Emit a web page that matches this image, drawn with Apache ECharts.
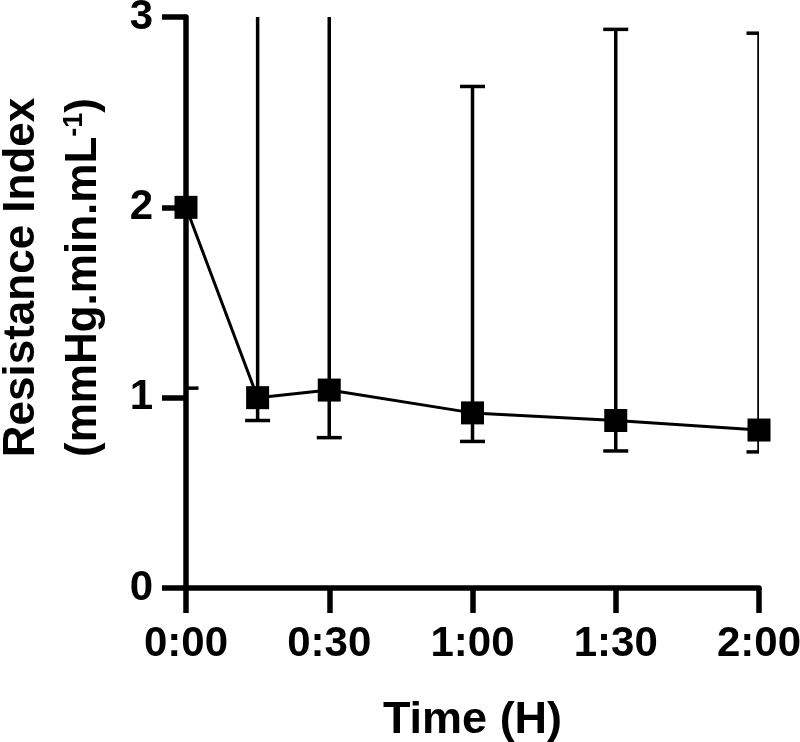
<!DOCTYPE html>
<html>
<head>
<meta charset="utf-8">
<script src="https://cdn.jsdelivr.net/npm/echarts@6/dist/echarts.min.js"></script>
<style>
html,body{margin:0;padding:0;background:#fff;}
#c{width:800px;height:742px;}
</style>
</head>
<body>
<div id="c"></div>
<script>
// Data (time in minutes)
var timesMin = [0, 15, 30, 60, 90, 120];
var meanValues = [2.0, 1.0, 1.04, 0.92, 0.88, 0.83];
var lowerValues = [1.05, 0.88, 0.79, 0.77, 0.72, 0.715];
var upperValues = [3.3, 3.5, 3.5, 2.635, 2.935, 2.915];
var xTickValues = [0, 30, 60, 90, 120];
var xTickLabels = ['0:00', '0:30', '1:00', '1:30', '2:00'];
var yTickLabels = ['0', '1', '2', '3'];

var FONT = 'Liberation Sans, Arial, sans-serif';

var lineData = timesMin.map(function (t, i) { return [t, meanValues[i]]; });
var errData = timesMin.map(function (t, i) { return [t, lowerValues[i], upperValues[i]]; });

var chart = echarts.init(document.getElementById('c'));
chart.setOption({
  animation: false,
  backgroundColor: '#fff',
  grid: { left: 186, right: 41, top: 17, bottom: 154, containLabel: false, outerBoundsMode: 'none' },
  xAxis: {
    type: 'value',
    min: 0, max: 120, interval: 30,
    splitLine: { show: false },
    axisLine: { show: true, onZero: false, lineStyle: { color: '#000', width: 5.5 } },
    axisTick: { show: true, length: 25, lineStyle: { color: '#000', width: 5.5 } },
    axisLabel: {
      margin: 35,
      color: '#000', fontFamily: FONT, fontWeight: 'bold', fontSize: 42,
      formatter: function (v) { var k = xTickValues.indexOf(v); return k >= 0 ? xTickLabels[k] : ''; }
    },
    name: 'Time (H)',
    nameLocation: 'middle',
    nameGap: 110,
    nameTextStyle: { color: '#000', fontFamily: FONT, fontWeight: 'bold', fontSize: 45 }
  },
  yAxis: {
    type: 'value',
    min: 0, max: 3, interval: 1,
    splitLine: { show: false },
    axisLine: { show: true, lineStyle: { color: '#000', width: 5.5 } },
    axisTick: { show: true, length: 24, lineStyle: { color: '#000', width: 5.5 } },
    axisLabel: {
      margin: 33,
      color: '#000', fontFamily: FONT, fontWeight: 'bold', fontSize: 42,
      formatter: function (v) { return yTickLabels[Math.round(v)]; }
    },
    name: '{a|Resistance Index}\n{t|(mmHg.min.mL}{s|-1}{t|)}',
    nameLocation: 'middle',
    nameRotate: 90,
    nameGap: 71,
    nameTextStyle: {
      color: '#000', fontFamily: FONT, fontWeight: 'bold', fontSize: 44,
      padding: [0, 0, 0, 50],
      rich: {
        a: { fontFamily: FONT, fontWeight: 'bold', fontSize: 44, lineHeight: 62, color: '#000' },
        t: { fontFamily: FONT, fontWeight: 'bold', fontSize: 44, lineHeight: 62, color: '#000' },
        s: { fontFamily: FONT, fontWeight: 'bold', fontSize: 27, lineHeight: 62, color: '#000', verticalAlign: 'top', padding: [8, 0, 0, 0] }
      }
    }
  },
  series: [
    {
      type: 'custom',
      clip: true,
      z: 2,
      data: errData,
      renderItem: function (params, api) {
        var x = api.value(0);
        var lo = api.coord([x, api.value(1)]);
        var hi = api.coord([x, api.value(2)]);
        var hw = 12.5;
        var st = { stroke: '#000', lineWidth: 3.5 };
        return {
          type: 'group',
          children: [
            { type: 'line', shape: { x1: lo[0], y1: lo[1], x2: hi[0], y2: hi[1] }, style: st },
            { type: 'line', shape: { x1: lo[0] - hw, y1: lo[1], x2: lo[0] + hw, y2: lo[1] }, style: st },
            { type: 'line', shape: { x1: hi[0] - hw, y1: hi[1], x2: hi[0] + hw, y2: hi[1] }, style: st }
          ]
        };
      }
    },
    {
      type: 'line',
      z: 3,
      data: lineData,
      symbol: 'rect',
      symbolSize: 23,
      itemStyle: { color: '#000' },
      lineStyle: { color: '#000', width: 3 },
      clip: false
    }
  ]
});
</script>
</body>
</html>
